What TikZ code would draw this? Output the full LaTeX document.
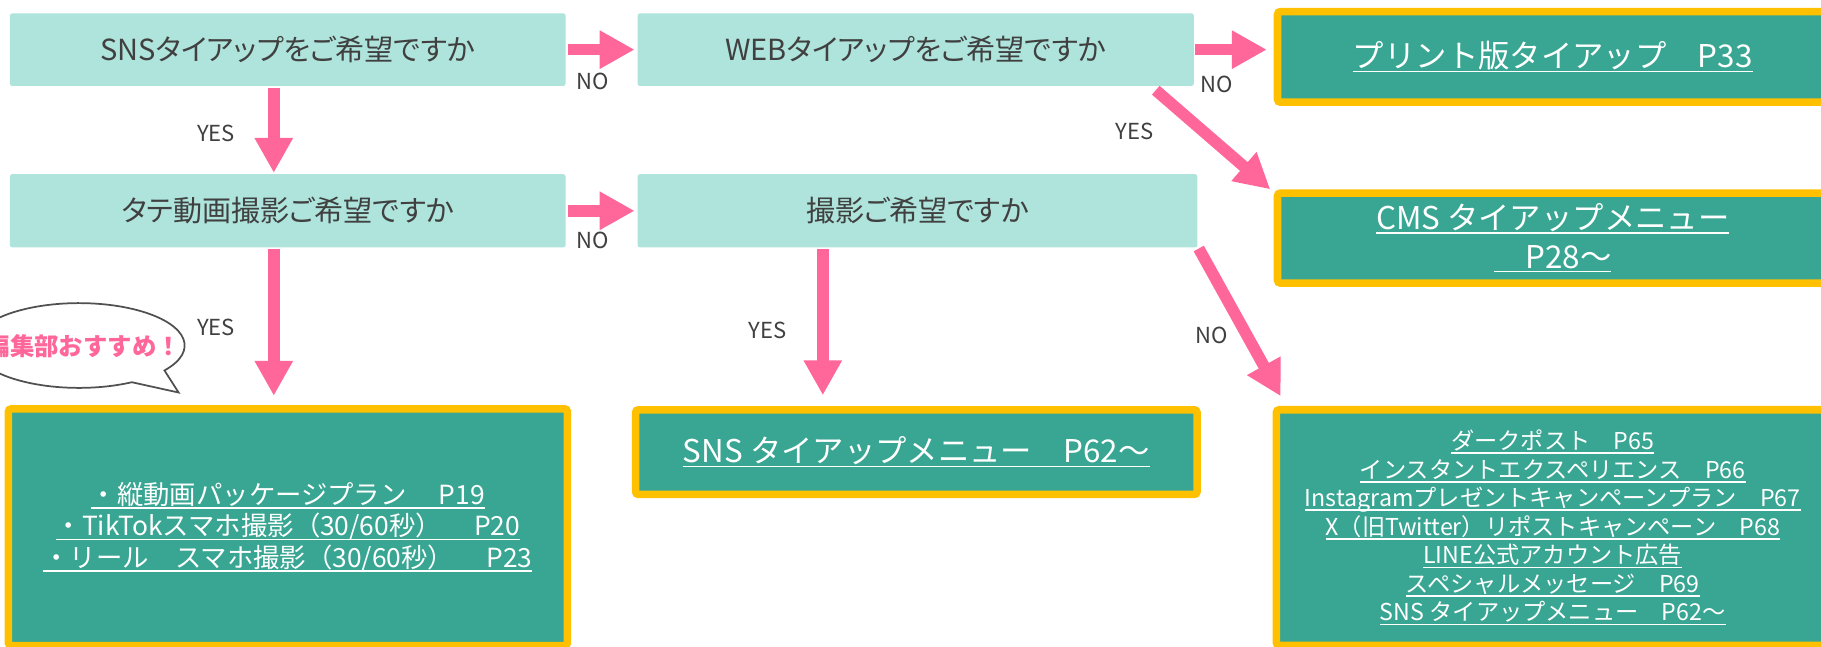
\documentclass[tikz,border=0pt]{standalone}
\usepackage{fontspec}
\setmainfont{Noto Sans CJK JP}
\newfontfamily\jpp{Noto Sans CJK JP}[RawFeature=+palt]
\usetikzlibrary{arrows.meta}
\definecolor{lightteal}{HTML}{AEE4DC}
\definecolor{darkteal}{HTML}{38A692}
\definecolor{goldy}{HTML}{FFC000}
\definecolor{pinky}{HTML}{FF6699}
\definecolor{textgray}{HTML}{404040}
\definecolor{bubblegray}{HTML}{505050}
\newcommand\uln[1]{\setbox0\hbox{#1}\rlap{\rule[-3.8pt]{\wd0}{1.5pt}}\box0}
\begin{document}
\begin{tikzpicture}[x=1pt,y=-1pt,
  qbox/.style={fill=lightteal, rounded corners=2pt, minimum height=62.5pt, text=textgray,
     font=\jpp\fontsize{25}{30}\selectfont, inner sep=0pt},
  resbox/.style={fill=darkteal, draw=goldy, line width=6.5pt, rounded corners=2.5pt,
     text=white, inner sep=0pt, align=center},
  lbl/.style={text=textgray, font=\fontsize{19}{22}\selectfont, inner sep=0pt},
  arr/.style={draw=pinky, line width=10pt, -{Triangle[length=30pt,width=31pt]}}]
\useasboundingbox (0,0) rectangle (1568,556.25);
\clip (0,0) rectangle (1568,556.25);

% question boxes
\node[qbox, minimum width=478.5pt] (A) at (247.75,42.75) {SNSタイアップをご希望ですか};
\node[qbox, minimum width=479pt] (B) at (788.5,42.75) {WEBタイアップをご希望ですか};
\node[qbox, minimum width=478.5pt, minimum height=63pt] (D) at (247.75,181.5) {タテ動画撮影ご希望ですか};
\node[qbox, minimum width=482pt, minimum height=63pt] (E) at (790,181.5) {撮影ご希望ですか};

% result boxes
\node[resbox, minimum width=474pt, minimum height=78pt, font=\fontsize{27}{33}\selectfont] (C) at (1337,49)
  {\uln{プリント版タイアップ　P33}};
\node[resbox, minimum width=474pt, minimum height=77.5pt, font=\fontsize{27}{33}\selectfont] (F) at (1337,205)
  {\uln{CMS タイアップメニュー}\\\uln{　P28～}};
\node[resbox, minimum width=481.3pt, minimum height=204pt, font=\fontsize{22.7}{27.2}\selectfont] (G) at (247.9,454)
  {\uln{・縦動画パッケージプラン　 P19}\\\uln{・TikTokスマホ撮影（30/60秒）　 P20}\\\uln{・リール　スマホ撮影（30/60秒）　 P23}};
\node[resbox, minimum width=483.5pt, minimum height=72.9pt, font=\fontsize{27}{33}\selectfont] (H) at (789,389.3)
  {\uln{SNS タイアップメニュー　P62～}};
\node[resbox, minimum width=476pt, minimum height=203pt, font=\fontsize{20}{24.6}\selectfont] (I) at (1337,454.3)
  {\uln{ダークポスト　P65}\\\uln{インスタントエクスペリエンス　P66}\\\uln{Instagramプレゼントキャンペーンプラン　P67}\\\uln{X（旧Twitter）リポストキャンペーン　P68}\\\uln{LINE公式アカウント広告}\\\uln{スペシャルメッセージ　P69}\\\uln{SNS タイアップメニュー　P62～}};

% speech bubble
\path[draw=bubblegray, line width=1.5pt, fill=white]
  ([shift={(-36:91pt and 36.5pt)}]68,297.5) arc[start angle=-36, end angle=300, x radius=91pt, y radius=36.5pt]
  -- (153.8,338) -- cycle;
\node[font=\bfseries\fontsize{21}{24}\selectfont, text=pinky, anchor=west, inner sep=0pt] (bub) at (-12.5,298.5) {編集部おすすめ！};

% arrows
\draw[arr, shorten <=2pt, shorten >=2.4pt] (A.east) -- (B.west);
\draw[arr, shorten <=2pt, shorten >=2.4pt] (D.east) -- (E.west);
\draw[arr, shorten <=1pt, shorten >=6pt] (B.east) -- (B.east -| C.west);
\draw[arr, shorten <=2pt, shorten >=1pt] ([xshift=-12pt]A.south) -- ([xshift=-12pt]A.south |- D.north);
\draw[arr, shorten <=1pt, shorten >=8pt] ([xshift=-12pt]D.south) -- ([xshift=-12pt]D.south |- G.north);
\draw[arr, shorten <=1pt, shorten >=9.3pt] ([xshift=-81.5pt]E.south) -- ([xshift=-81.5pt]E.south |- H.north);
\draw[arr] ([shift={(-33,3.5)}]B.south east) -- ([xshift=-3pt]F.north west);
\draw[arr] ([shift={(1,0.8)}]E.south east) -- ([shift={(7,-8.4)}]I.north west);

% labels
\node[lbl] (n1) at (510,70) {NO};
\node[lbl] (n2) at (1048,72.5) {NO};
\node[lbl] (n3) at (510,207.4) {NO};
\node[lbl] (n4) at (1043,288.5) {NO};
\node[lbl] (y1) at (186,114.8) {YES};
\node[lbl] (y2) at (977,113) {YES};
\node[lbl] (y3) at (186,282) {YES};
\node[lbl] (y4) at (661,284.7) {YES};
\end{tikzpicture}
\end{document}
